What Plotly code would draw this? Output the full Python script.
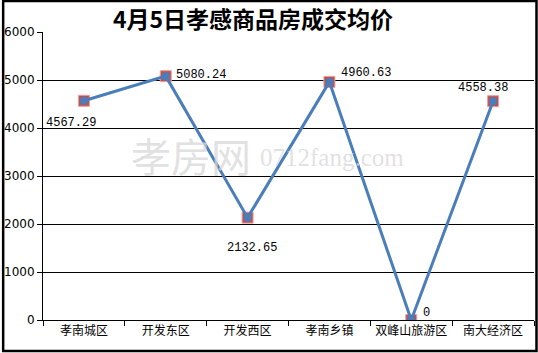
import plotly.graph_objects as go

categories = ["孝南城区", "开发东区", "开发西区", "孝南乡镇", "双峰山旅游区", "南大经济区"]
prices = [4567.29, 5080.24, 2132.65, 4960.63, 0, 4558.38]
label_texts = ["4567.29", "5080.24", "2132.65", "4960.63", "0", "4558.38"]
label_shift_x = [-13, 35, 4, 37, 15, -10]
label_shift_y = [-22, 1, -30, 9, 7, 13]
y_ticks = [0, 1000, 2000, 3000, 4000, 5000, 6000]

W, H, L, T = 493, 288, 41, 32

fig = go.Figure()
fig.add_trace(go.Scatter(
    x=categories, y=prices, mode="markers",
    marker=dict(symbol="square", size=11, color="#c0504d",
                line=dict(color="#e8a0a0", width=1)),
    hoverinfo="skip", showlegend=False))
fig.add_trace(go.Scatter(
    x=categories, y=prices, mode="lines+markers",
    line=dict(color="#4a7ebb", width=3),
    marker=dict(symbol="circle", size=8, color="#4a7ebb"),
    showlegend=False))

for c, v, t, dx, dy in zip(categories, prices, label_texts, label_shift_x, label_shift_y):
    fig.add_annotation(x=c, y=v, text=t, showarrow=False, xshift=dx, yshift=dy, borderpad=0,
                       font=dict(family="Liberation Mono, DejaVu Sans Mono", size=12, color="black"))

# watermark
fig.add_annotation(xref="paper", yref="paper", x=(190 - L) / W, y=(320 - 155) / H,
                   xanchor="center", yanchor="middle",
                   text="孝房网", showarrow=False,
                   font=dict(family="Noto Sans CJK SC", size=40, color="rgba(215,215,215,0.75)"))
fig.add_annotation(xref="paper", yref="paper", x=(331 - L) / W, y=(320 - 157) / H,
                   xanchor="center", yanchor="middle",
                   text="0712fang.com", showarrow=False,
                   font=dict(family="Liberation Serif", size=25, color="rgba(215,215,215,0.75)"))

# outer frame
def px(xp):
    return (xp - L) / W
def py(yp):
    return (T + H - yp) / H
fig.add_shape(type="rect", xref="paper", yref="paper",
              x0=px(1), x1=px(536.5), y0=py(351), y1=py(1),
              line=dict(color="black", width=2.5), layer="above")

fig.update_layout(
    width=538, height=353,
    margin=dict(l=L, r=538 - L - W, t=T, b=353 - T - H),
    paper_bgcolor="white", plot_bgcolor="white",
    title=dict(text="<b>4月5日孝感商品房成交均价</b>", x=253 / 538, xanchor="center",
               y=1 - 20 / 353, yanchor="middle",
               font=dict(family="Noto Sans CJK SC", size=23, color="black")),
    xaxis=dict(type="category", range=[-0.5, 5.5], showgrid=False,
               showline=True, linecolor="black", linewidth=1,
               ticks="outside", tickson="boundaries", ticklen=5, tickcolor="black",
               tickfont=dict(family="Noto Sans CJK SC", size=12, color="black")),
    yaxis=dict(range=[0, 6000], tickvals=y_ticks, showgrid=True, gridcolor="black", gridwidth=1,
               showline=True, linecolor="black", linewidth=1, zeroline=False,
               ticks="outside", ticklen=5, tickcolor="black",
               tickfont=dict(family="DejaVu Sans", size=12, color="black")),
)

fig.write_html("out.html")
